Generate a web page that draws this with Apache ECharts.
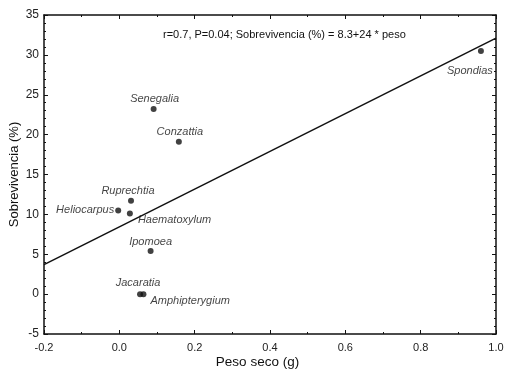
<!DOCTYPE html>
<html>
<head>
<meta charset="utf-8">
<script src="https://cdn.jsdelivr.net/npm/echarts@6/dist/echarts.min.js"></script>
<style>
html, body { margin: 0; padding: 0; background: #fff; }
#chart { width: 508px; height: 380px; }
</style>
</head>
<body>
<div id="chart"></div>
<script>
// especies y valores
const species = ['Senegalia', 'Conzattia', 'Spondias', 'Ruprechtia', 'Heliocarpus', 'Haematoxylum', 'Ipomoea', 'Jacaratia', 'Amphipterygium']
const peso = [0.091, 0.158, 0.960, 0.031, -0.003, 0.028, 0.083, 0.055, 0.064]
const sobrevivencia = [23.2, 19.1, 30.5, 11.7, 10.5, 10.1, 5.4, 0.0, 0.0]
// recta de regresion (extremos)
const lineX = [-0.2, 1.0]
const lineY = [3.7, 32.1]
const xTicks = [-0.2, 0.0, 0.2, 0.4, 0.6, 0.8, 1.0]
const yTicks = [-5, 0, 5, 10, 15, 20, 25, 30, 35]
const note = 'r=0.7, P=0.04; Sobrevivencia (%) = 8.3+24 * peso'

// desplazamiento de las etiquetas respecto al punto (px)
const labelPos = {
    Senegalia: [1, -10, 'center'],
    Conzattia: [1, -10, 'center'],
    Spondias: [-11, 20, 'center'],
    Ruprechtia: [-3, -10, 'center'],
    Heliocarpus: [-4, 0, 'right'],
    Haematoxylum: [8, 6, 'left'],
    Ipomoea: [0, -9, 'center'],
    Jacaratia: [-2, -11, 'center'],
    Amphipterygium: [7, 7, 'left']
}

const font = 'Liberation Sans, Arial, sans-serif'
const axisLine = { show: true, onZero: false, lineStyle: { color: '#111', width: 1.5 } }
const tick = { show: true, inside: true, length: 4, lineStyle: { color: '#111' } }
const minor = { show: true, length: 2, lineStyle: { color: '#111' } }

const chart = echarts.init(document.getElementById('chart'), null, { renderer: 'canvas' })

const points = species.map((name, i) => {
    const p = labelPos[name]
    return {
        name: name,
        value: [peso[i], sobrevivencia[i]],
        label: {
            show: true,
            formatter: name,
            position: 'inside',
            align: p[2],
            verticalAlign: 'middle',
            offset: [p[0], p[1]],
            fontStyle: 'italic',
            fontFamily: font,
            fontSize: 11,
            color: '#111'
        }
    }
})

const option = {
    animation: false,
    backgroundColor: '#fff',
    grid: { left: 44, right: 12, top: 15, bottom: 46, outerBoundsMode: 'none', containLabel: false },
    textStyle: { fontFamily: font },
    xAxis: [{
        type: 'value',
        min: xTicks[0], max: xTicks[xTicks.length - 1], interval: 0.2,
        position: 'bottom',
        name: 'Peso seco (g)', nameLocation: 'middle', nameGap: 21, nameMoveOverlap: false,
        nameTextStyle: { fontSize: 13.5, color: '#111', fontFamily: font, padding: [0, 25, 0, 0] },
        axisLine: axisLine, axisTick: tick,
        minorTick: Object.assign({ splitNumber: 2 }, minor),
        splitLine: { show: false },
        axisLabel: { fontSize: 11, color: '#222', margin: 8, formatter: v => v.toFixed(1) }
    }, {
        type: 'value',
        min: xTicks[0], max: xTicks[xTicks.length - 1], interval: 0.2,
        position: 'top',
        axisLine: axisLine, axisTick: tick,
        minorTick: Object.assign({ splitNumber: 2 }, minor),
        splitLine: { show: false },
        axisLabel: { show: false }
    }],
    yAxis: [{
        type: 'value',
        min: yTicks[0], max: yTicks[yTicks.length - 1], interval: 5,
        position: 'left',
        name: 'Sobrevivencia (%)', nameLocation: 'middle', nameGap: 23, nameMoveOverlap: false,
        nameTextStyle: { fontSize: 13, color: '#111', fontFamily: font },
        axisLine: axisLine, axisTick: tick,
        minorTick: Object.assign({ splitNumber: 5 }, minor),
        splitLine: { show: false },
        axisLabel: { fontSize: 12, color: '#222', margin: 5 }
    }, {
        type: 'value',
        min: yTicks[0], max: yTicks[yTicks.length - 1], interval: 5,
        position: 'right',
        axisLine: axisLine, axisTick: tick,
        minorTick: Object.assign({ splitNumber: 5 }, minor),
        splitLine: { show: false },
        axisLabel: { show: false }
    }],
    graphic: [{
        type: 'text',
        left: 163, top: 29,
        style: { text: note, fontSize: 11, fontFamily: font, fill: '#111' }
    }],
    series: [{
        type: 'line',
        data: lineX.map((x, i) => [x, lineY[i]]),
        symbol: 'none',
        lineStyle: { color: '#111', width: 1.5 },
        z: 2
    }, {
        type: 'scatter',
        data: points,
        symbol: 'circle',
        symbolSize: 6,
        itemStyle: { color: '#111' },
        z: 3
    }]
}
chart.setOption(option)
</script>
</body>
</html>
